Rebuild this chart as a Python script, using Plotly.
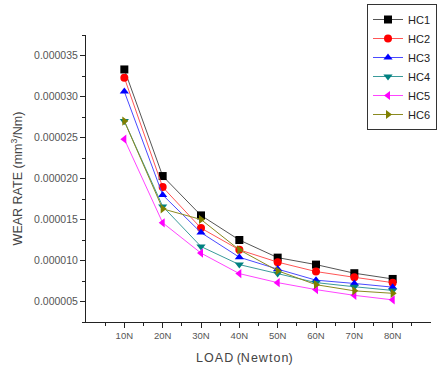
import plotly.graph_objects as go

loads = ["10N", "20N", "30N", "40N", "50N", "60N", "70N", "80N"]
series_names = ["HC1", "HC2", "HC3", "HC4", "HC5", "HC6"]
hc1 = [33.3e-6, 20.3e-6, 15.5e-6, 12.5e-6, 10.35e-6, 9.5e-6, 8.45e-6, 7.75e-6]
hc2 = [32.3e-6, 18.95e-6, 13.95e-6, 11.3e-6, 9.8e-6, 8.65e-6, 7.95e-6, 7.3e-6]
hc3 = [30.6e-6, 18.0e-6, 13.4e-6, 10.4e-6, 8.95e-6, 7.6e-6, 7.2e-6, 6.75e-6]
hc4 = [27.0e-6, 16.6e-6, 11.7e-6, 9.5e-6, 8.4e-6, 7.3e-6, 6.8e-6, 6.35e-6]
hc5 = [24.8e-6, 14.6e-6, 10.9e-6, 8.4e-6, 7.3e-6, 6.45e-6, 5.75e-6, 5.2e-6]
hc6 = [27.0e-6, 16.3e-6, 15.0e-6, 11.3e-6, 8.75e-6, 7.05e-6, 6.3e-6, 6.0e-6]
values = [hc1, hc2, hc3, hc4, hc5, hc6]

colors = ["#000000", "#ff0000", "#0000ff", "#008080", "#ff00ff", "#808000"]
line_colors = ["#555555", "#ff5555", "#4a4aff", "#3a9a9a", "#ff44ff", "#8a8a20"]
symbols = ["square", "circle", "triangle-up", "triangle-down", "triangle-left", "triangle-right"]

xpos = list(range(1, len(loads) + 1))

fig = go.Figure()
for name, vals, c, lc, s in zip(series_names, values, colors, line_colors, symbols):
    fig.add_trace(go.Scatter(
        x=xpos, y=vals, name=name, mode="lines+markers",
        line=dict(color=lc, width=1),
        marker=dict(symbol=s, size=8, color=c, line=dict(width=0)),
    ))

fig.update_layout(
    width=437, height=367,
    margin=dict(l=86, r=0, t=35, b=45),
    paper_bgcolor="white", plot_bgcolor="white",
    font=dict(family="Liberation Sans, Arial", color="#333333"),
    showlegend=True,
    legend=dict(
        x=0.815, y=1.108, xanchor="left", yanchor="top",
        bordercolor="#333333", borderwidth=1, bgcolor="white",
        font=dict(size=11, color="#222222"),
        itemwidth=30, tracegroupgap=0,
    ),
    xaxis=dict(
        range=[0, 9], tickmode="array", tickvals=xpos, ticktext=loads,
        showgrid=False, zeroline=False,
        showline=True, linecolor="#222222", linewidth=1,
        ticks="outside", ticklen=5, tickcolor="#222222",
        tickfont=dict(size=9.5, color="#555555"),
        minor=dict(tickmode="array", tickvals=[v - 0.5 for v in xpos] + [len(loads) + 0.5],
                   ticks="outside", ticklen=3, tickcolor="#222222"),
    ),
    yaxis=dict(
        range=[2.5e-6, 37.5e-6], tick0=5e-6, dtick=5e-6, tickformat=".6f",
        showgrid=False, zeroline=False,
        showline=True, linecolor="#222222", linewidth=1,
        ticks="outside", ticklen=5, tickcolor="#222222",
        tickfont=dict(size=10.5, color="#555555"),
        minor=dict(dtick=2.5e-6, tick0=2.5e-6, ticks="outside", ticklen=3, tickcolor="#222222"),
        title=dict(text="WEAR RATE (mm<sup>3</sup>/Nm)", font=dict(size=12.5, color="#444444"), standoff=8),
    ),
    annotations=[dict(
        text="L O A D  (N e w t o n)".replace("  ", "\u2002").replace(" ", "\u200a").replace("\u2002", " "),
        xref="paper", yref="paper", x=0.459, y=-0.095, xanchor="center", yanchor="top",
        showarrow=False, font=dict(size=12.5, color="#444444"),
    )],
)

fig.write_html("out.html")
